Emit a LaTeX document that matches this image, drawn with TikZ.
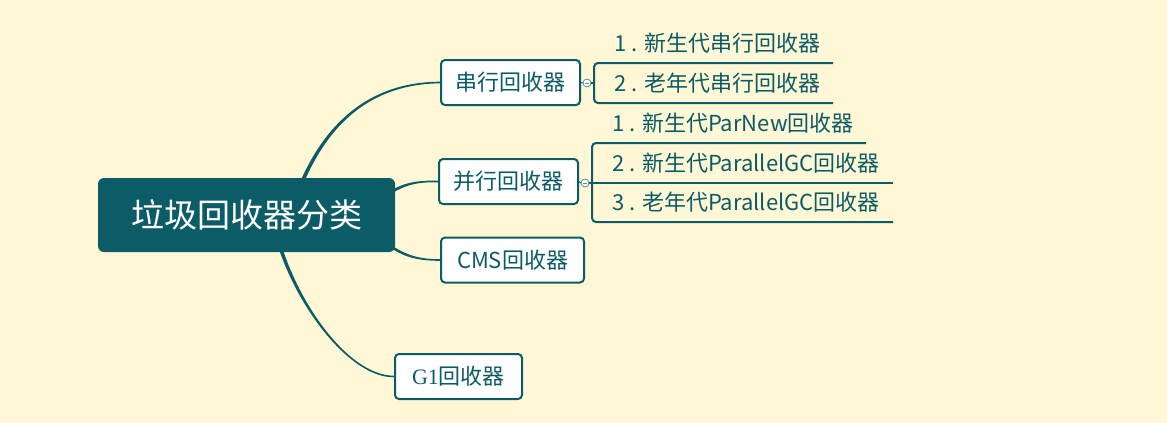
\documentclass[tikz,border=0pt]{standalone}
\usepackage{fontspec}
\newfontfamily\cjk{Noto Sans CJK SC}
\newfontfamily\serifg{Liberation Serif}
\definecolor{mapteal}{HTML}{0B5C66}
\definecolor{mapbg}{HTML}{FFF7D5}
\tikzset{
rootbox/.style = {fill = mapteal, rounded corners = 6, text = white, minimum width = 297, minimum height = 74, font = \cjk\fontsize{33}{39}\selectfont},
branch/.style = {draw = mapteal, fill = white, line width = 2, rounded corners = 4, text = mapteal, minimum height = 45, inner xsep = 14, font = \cjk\fontsize{22}{26}\selectfont},
leaf/.style = {anchor = south west, minimum height = 40, inner xsep = 12, inner ysep = 0, text = mapteal, font = \cjk\fontsize{22}{26}\selectfont, execute at begin node = \hspace*{8pt}},
leafline/.style = {draw = mapteal, line width = 2, rounded corners = 4},
fold/.style = {circle, draw = mapteal!70, fill = white, line width = 0.8, minimum size = 8, inner sep = 0,
  path picture = {\draw [mapteal!70, line width = 0.6] ([xshift = -2]path picture bounding box.center) -- ([xshift = 2]path picture bounding box.center);}},
trunk/.style = {fill = mapteal}
}
\begin{document}
\begin{tikzpicture}[x = 1pt, y = -1pt]
\fill [mapbg] (0,0) rectangle (1167,423);
\useasboundingbox (0,0) rectangle (1167,423);

% main branches
\node [branch, minimum width = 139] (serial) at (510.5,82.5) {串行回收器};
\node [branch, minimum width = 139] (parallel) at (508.5,181.5) {并行回收器};
\node [branch, minimum width = 143] (cms) at (512.5,260) {CMS回收器};
\node [branch, minimum width = 127] (gone) at (458.5,376.5) {{\serifg G1}回收器};

% serial children
\node [leaf] (s1) at (594,63) {1 . 新生代串行回收器};
\node [leaf] (s2) at (594,103) {2 . 老年代串行回收器};
\draw [leafline] ([xshift = 239]s1.south west) -- (s1.south west) -- (s2.south west) -- ([xshift = 239]s2.south west);
\node [fold] (sfold) at (587,83) {};
\draw [mapteal, line width = 1] (serial.east) -- (sfold.west);
\draw [mapteal, line width = 2] (sfold.east) -- (sfold.east -| s1.south west);

% parallel children
\node [leaf] (p1) at (592,143) {1 . 新生代ParNew回收器};
\node [leaf] (p2) at (592,183) {2 . 新生代ParallelGC回收器};
\node [leaf] (p3) at (592,222) {3 . 老年代ParallelGC回收器};
\draw [leafline] ([xshift = 274]p1.south west) -- (p1.south west) -- (p3.south west) -- ([xshift = 301]p3.south west);
\draw [leafline] (p2.south west) -- ([xshift = 301]p2.south west);
\node [fold] (pfold) at (585,183) {};
\draw [mapteal, line width = 1] (parallel.east) -- (pfold.west);
\draw [mapteal, line width = 2] (pfold.east) -- (pfold.east -| p2.south west);

% curved trunks from the root
\coordinate (hubs) at (290,215);
\coordinate (hubp) at (380,200);
\coordinate (hubc) at (380,238);
\coordinate (hubg) at (272,215);
\fill [trunk] ([xshift = -2]hubs) .. controls (308,149) and (350,82) .. ([yshift = 0.8]serial.west)
  -- ([yshift = -0.8]serial.west) .. controls (350,84.5) and (312,151) .. ([xshift = 2]hubs) -- cycle;
\fill [trunk] ([yshift = 2]hubp) .. controls (400,182.5) and (415,180.2) .. ([yshift = 0.8]parallel.west)
  -- ([yshift = -0.8]parallel.west) .. controls (415,181.8) and (400,185.5) .. ([yshift = -2]hubp) -- cycle;
\fill [trunk] ([yshift = 2]hubc) .. controls (400,253.5) and (415,259.2) .. ([yshift = 0.8]cms.west)
  -- ([yshift = -0.8]cms.west) .. controls (415,260.8) and (400,256.5) .. ([yshift = -2]hubc) -- cycle;
\fill [trunk] ([xshift = -2]hubg) .. controls (283,290) and (345,377.8) .. ([yshift = -0.8]gone.west)
  -- ([yshift = 0.8]gone.west) .. controls (345,375.7) and (287,290) .. ([xshift = 2]hubg) -- cycle;

% root
\node [rootbox] (root) at (246.5,215) {垃圾回收器分类};
\end{tikzpicture}
\end{document}
